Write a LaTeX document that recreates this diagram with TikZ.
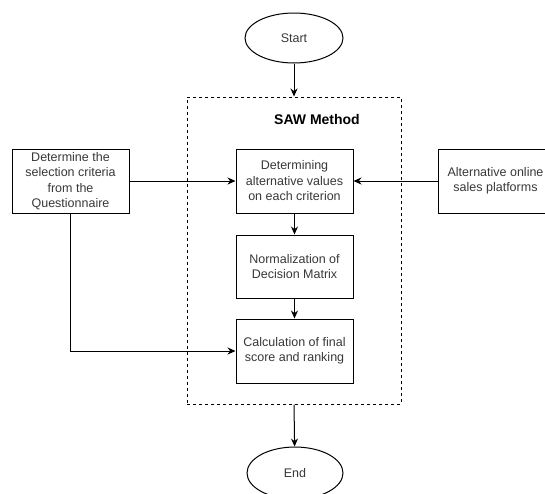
\documentclass[tikz,border=0pt]{standalone}
\usepackage{fontspec}
\setmainfont{Liberation Sans}
\usetikzlibrary{arrows.meta,shapes.geometric}
\begin{document}
\begin{tikzpicture}[x=1pt,y=-1pt,
  txt/.style={text=black!78, font=\fontsize{12.5}{15.5}\selectfont, align=center},
  box/.style={txt, draw=black, line width=1pt, rectangle, inner sep=0pt},
  term/.style={txt, draw=black, line width=1pt, ellipse, inner sep=0pt},
  arr/.style={-{Stealth[length=8pt,width=7pt]}, line width=1pt}]
\useasboundingbox (0,0) rectangle (545,493);
\node[term, minimum width=98pt, minimum height=50pt] (start) at (294,38) {Start};
\node[draw=black, dashed, line width=1pt, minimum width=214pt, minimum height=307pt, inner sep=0pt] (saw) at (294,250.5) {};
\node[font=\fontsize{14}{16}\selectfont\bfseries] (title) at (317,119) {SAW Method};
\node[box, minimum width=117pt, minimum height=64pt] (b1) at (294.5,181) {Determining\\alternative values\\on each criterion};
\node[box, minimum width=117pt, minimum height=63pt] (b2) at (294.5,266.5) {Normalization of\\Decision Matrix};
\node[box, minimum width=117pt, minimum height=64pt] (b3) at (294.5,351) {Calculation of final\\score and ranking};
\node[box, minimum width=117pt, minimum height=64pt] (left) at (70.5,181) {Determine the\\selection criteria\\from the\\Questionnaire};
\node[box, minimum width=115pt, minimum height=64pt] (right) at (495.5,181) {Alternative online\\sales platforms};
\node[term, minimum width=96pt, minimum height=52pt] (end) at (295,473) {End};
\draw[arr] (start) -- (saw.north);
\draw[arr] (b1) -- (b2);
\draw[arr] (b2) -- (b3);
\draw[arr] (left) -- (b1);
\draw[arr] (right) -- (b1);
\draw[arr] (left.south) |- (b3.west);
\draw[arr] (saw.south) -- (end);
\end{tikzpicture}
\end{document}
